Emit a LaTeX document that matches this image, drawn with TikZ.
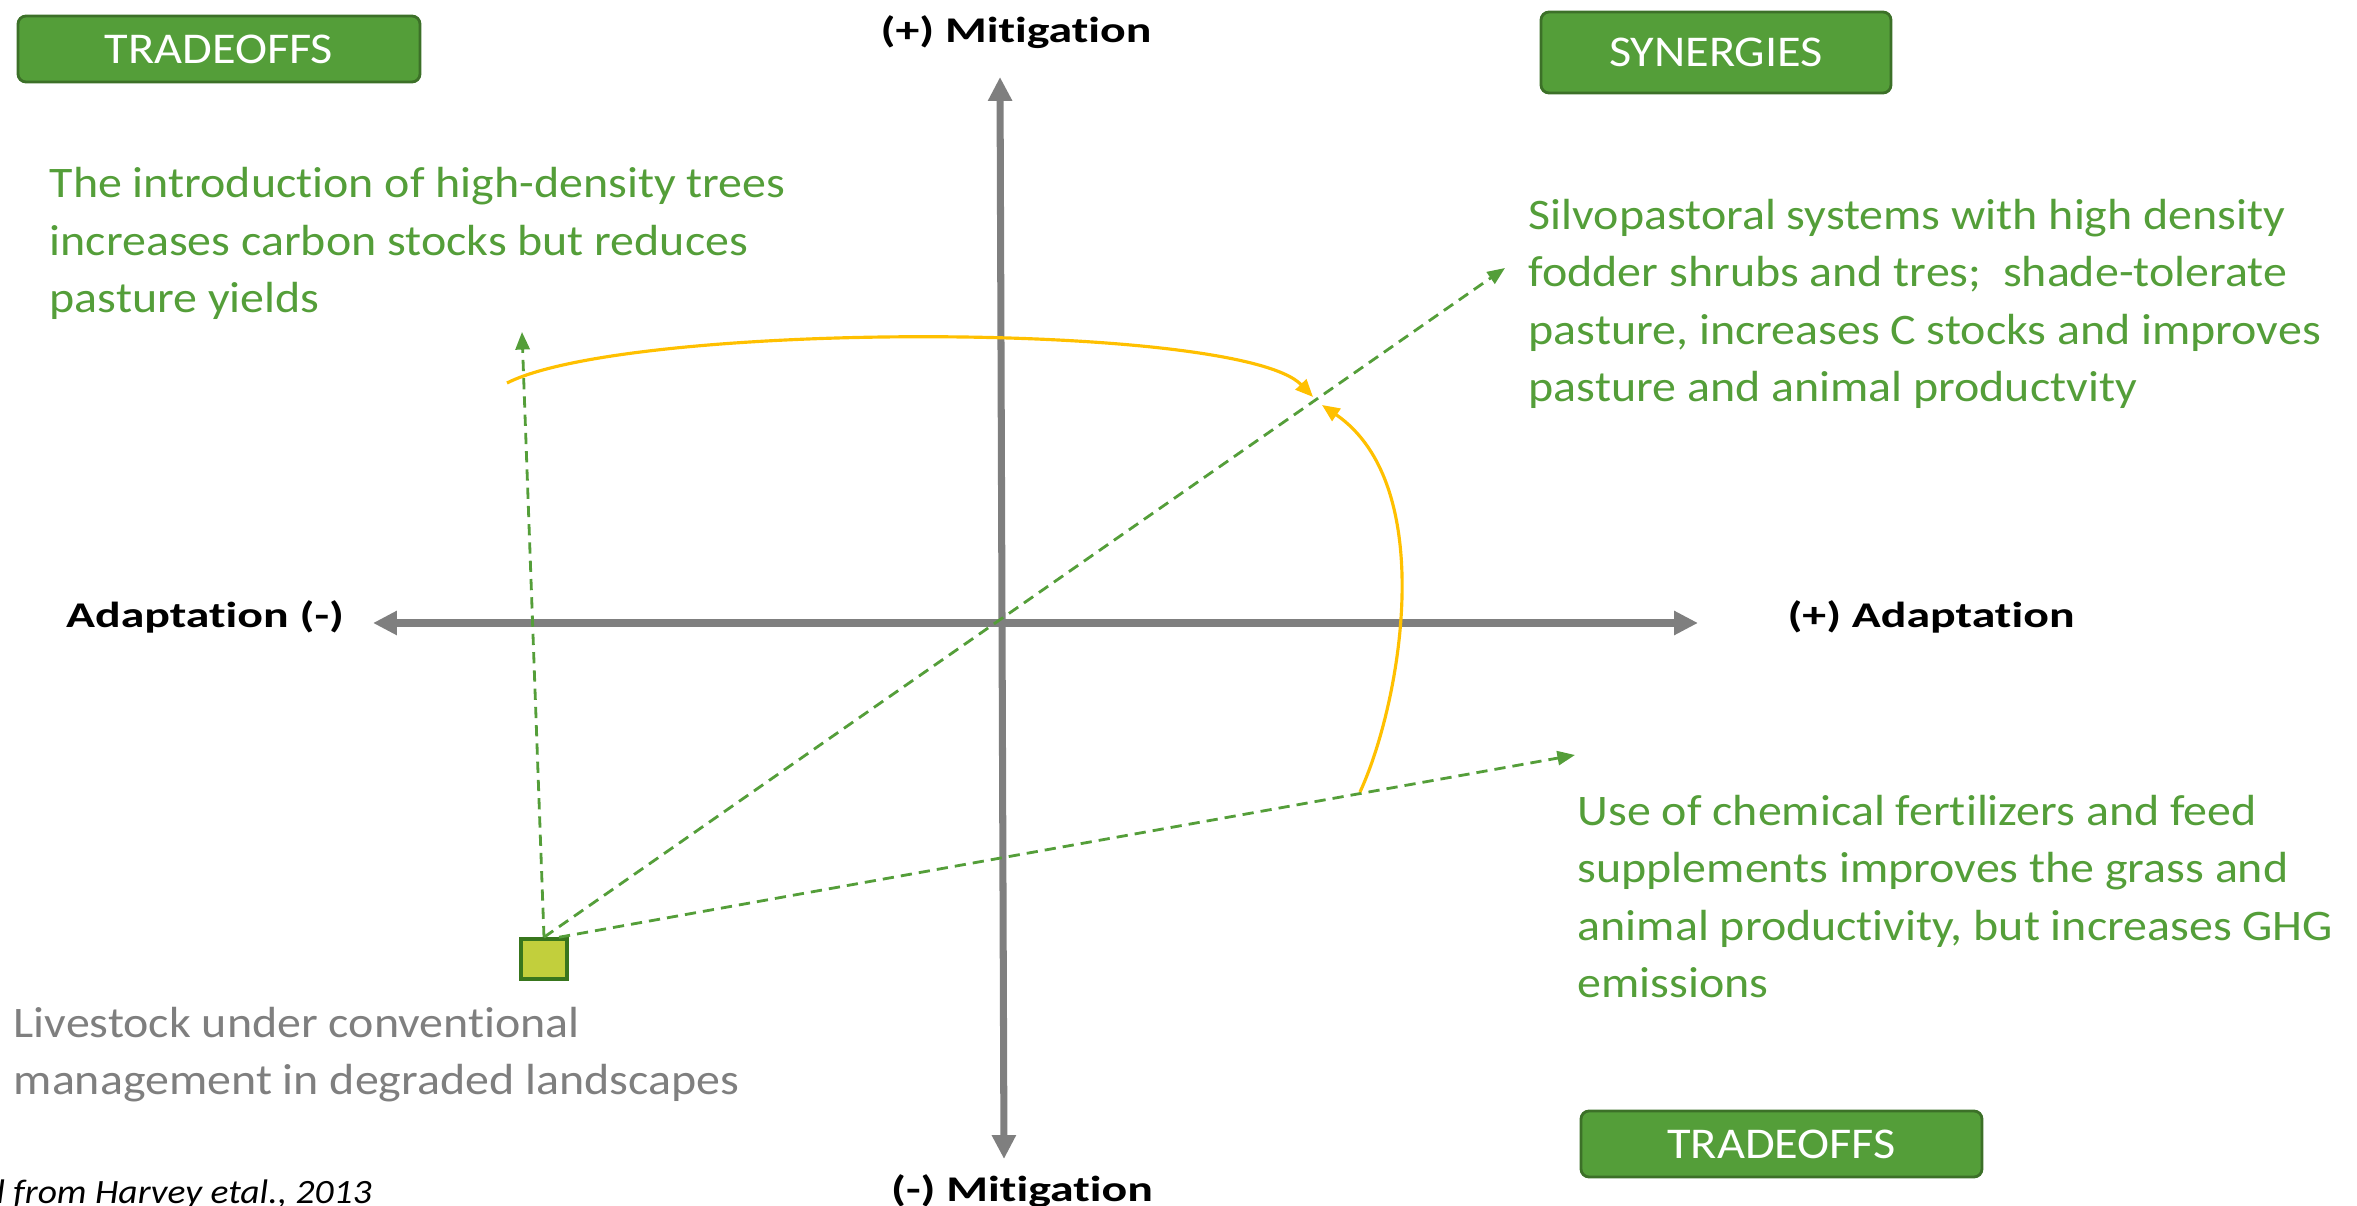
\documentclass[tikz,border=0pt]{standalone}
\usepackage{fontspec}
\setmainfont{Carlito}[FakeStretch=1.1, Ligatures=NoCommon]
\newfontfamily\labelfont{Carlito}[FakeStretch=1.32, Ligatures=NoCommon]
\usetikzlibrary{arrows.meta}
\definecolor{leaf}{RGB}{84,158,57}
\definecolor{leafdark}{RGB}{60,112,40}
\definecolor{axisgray}{RGB}{127,127,127}
\definecolor{amber}{RGB}{255,192,0}
\definecolor{lime}{RGB}{194,207,60}
\definecolor{limeedge}{RGB}{56,118,29}
\tikzset{
  axis/.style={line width=2pt, axisgray, {Triangle[length=6.8pt,width=6.5pt]}-{Triangle[length=6.8pt,width=6.5pt]}},
  axislabel/.style={font=\labelfont\bfseries\fontsize{10.3}{12}\selectfont, inner sep=0, anchor=base},
  badge/.style={draw=leafdark, line width=0.8pt, fill=leaf, rounded corners=0.08cm, text=white, font=\fontsize{12.5}{14}\selectfont, inner sep=0},
  note/.style={text=leaf, font=\fontsize{12.4}{16.4}\selectfont, align=left, inner sep=0, anchor=base west},
  link/.style={leaf, line width=0.8pt, dash pattern=on 3.2pt off 2pt, -{Triangle[length=5pt,width=4pt]}},
  swing/.style={amber, line width=0.9pt, -{Triangle[length=5pt,width=4.2pt]}}
}

\begin{document}
\begin{tikzpicture}
  %%%%% START %%%%%
  \useasboundingbox (0,0) rectangle (23.57,12.06);

  % axes
  \coordinate (adaLeft) at (3.73,5.83);
  \coordinate (adaRight) at (16.98,5.83);
  \coordinate (mitTop) at (10.00,11.29);
  \coordinate (mitBot) at (10.04,0.47);
  \draw[axis] (adaLeft) -- (adaRight);
  \draw[axis] (mitBot) -- (mitTop);

  \node[axislabel] (mitPlus) at (10.16,11.63) {(+) Mitigation};
  \node[axislabel] (mitMinus) at (10.22,0.04) {(-) Mitigation};
  \node[axislabel] (adaMinus) at (2.05,5.78) {Adaptation (-)};
  \node[axislabel] (adaPlus) at (19.31,5.78) {(+) Adaptation};

  % badges
  \node[badge, minimum width=4.02cm, minimum height=0.66cm] (tradeTop) at (2.19,11.57) {TRADEOFFS};
  \node[badge, minimum width=3.50cm, minimum height=0.81cm] (synergy) at (17.16,11.535) {SYNERGIES};
  \node[badge, minimum width=4.01cm, minimum height=0.66cm] (tradeBot) at (17.815,0.62) {TRADEOFFS};

  % texts (base = last line)
  \node[note] (treesTxt) at (0.49,8.93) {The introduction of high-density trees\\increases carbon stocks but reduces\\pasture yields};
  \node[note] (silvoTxt) at (15.28,8.04) {Silvopastoral systems with high density\\fodder shrubs and tres;~ shade-tolerate\\pasture, increases C stocks and improves\\pasture and animal productvity};
  \node[note] (fertTxt) at (15.77,2.08) {Use of chemical fertilizers and feed\\supplements improves the grass and\\animal productivity, but increases GHG\\emissions};
  \node[note, text=axisgray] (baseTxt) at (0.13,1.11) {Livestock under conventional\\management in degraded landscapes};
  \node[note, text=black, font=\itshape\fontsize{9.7}{12}\selectfont] (srcTxt) at (-0.15,0.02) {d from Harvey etal., 2013};

  % starting point
  \node[draw=limeedge, fill=lime, line width=1pt, minimum width=0.46cm, minimum height=0.40cm, inner sep=0] (conv) at (5.44,2.47) {};

  % dashed pathways
  \coordinate (treesEnd) at (5.22,8.74);
  \coordinate (silvoEnd) at (15.05,9.38);
  \coordinate (fertEnd) at (15.75,4.51);
  \draw[link] (conv.north) -- (treesEnd);
  \draw[link] (conv.north) -- (silvoEnd);
  \draw[link] ([xshift=1.5mm]conv.north) -- (fertEnd);

  % shifts towards synergies
  \coordinate (swingA) at (5.07,8.23);
  \coordinate (swingAEnd) at (13.13,8.09);
  \coordinate (swingB) at (13.60,4.14);
  \coordinate (swingBEnd) at (13.22,8.01);
  \draw[swing] (swingA) .. controls (6.3,8.85) and (12.4,8.85) .. (swingAEnd);
  \draw[swing] (swingB) .. controls (14.0,5.0) and (14.4,7.2) .. (swingBEnd);
  %%%%% END %%%%%
\end{tikzpicture}
\end{document}
